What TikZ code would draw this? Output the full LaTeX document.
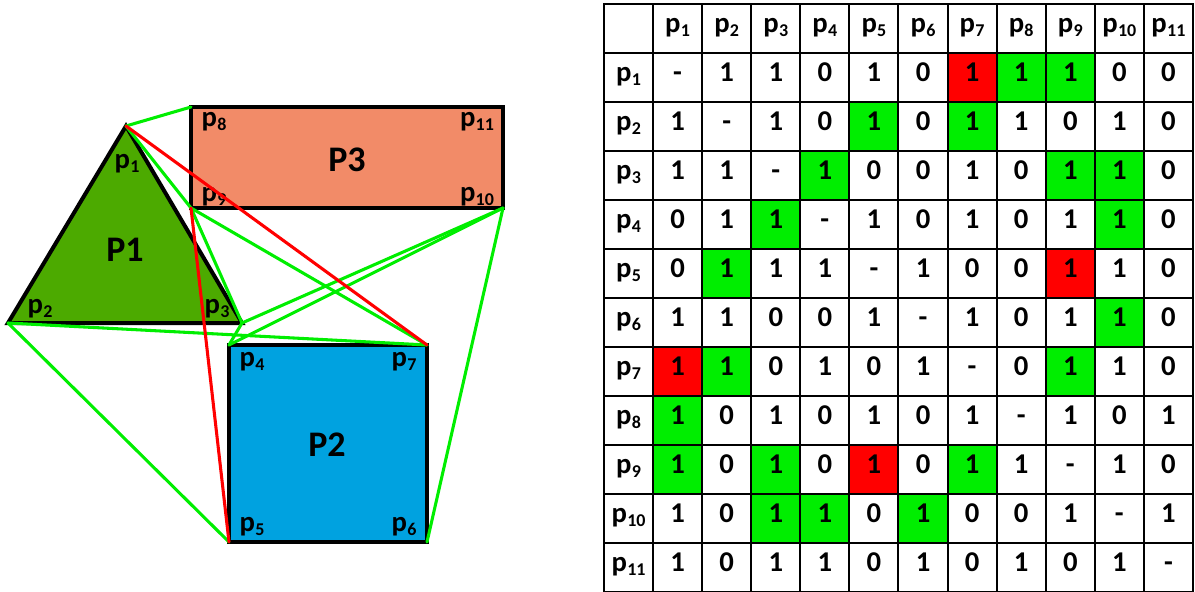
\documentclass[tikz,border=0pt]{standalone}
\usepackage{fontspec}
\setmainfont{Carlito}
\definecolor{triFill}{RGB}{76,170,0}
\definecolor{recFill}{RGB}{242,139,104}
\definecolor{sqFill}{RGB}{0,162,224}
\definecolor{linkGreen}{RGB}{0,238,0}
\definecolor{linkRed}{RGB}{255,0,0}
\colorlet{cw}{white}
\colorlet{cg}{linkGreen}
\colorlet{cr}{linkRed}
% vertex label: bold p with a small lowered index
\newcommand\plab[1]{p\kern0.01em\raisebox{-0.14em}{\fontsize{13.5}{14}\selectfont #1}}
\tikzset{
  poly/.style={draw=black,line width=3pt,line join=miter},
  vlabel/.style={font=\fontsize{21.5}{23}\selectfont\bfseries,inner sep=0pt},
  plabel/.style={font=\fontsize{27}{29}\selectfont\bfseries,inner sep=0pt},
  glink/.style={draw=linkGreen,line width=2.3pt,line cap=round},
  rlink/.style={draw=linkRed,line width=2.3pt,line cap=round},
  cell/.style={draw=black,line width=1.5pt,minimum width=36.81pt,minimum height=36.75pt,
    inner sep=0pt,font=\fontsize{21.5}{23}\selectfont\bfseries,text height=0.62em,text depth=0.05em}
}
\begin{document}
\begin{tikzpicture}[x=0.75pt,y=-0.75pt]
\useasboundingbox (0,0) rectangle (1195,592);

% polygon corners
\coordinate (p1) at (126,126);
\coordinate (p2) at (8,323);
\coordinate (p3) at (242,323);
\coordinate (p4) at (229,345);
\coordinate (p5) at (229,542);
\coordinate (p6) at (427,542);
\coordinate (p7) at (427,345);
\coordinate (p8) at (191,107);
\coordinate (p9) at (191,208);
\coordinate (p10) at (503,208);
\coordinate (p11) at (503,107);

% polygons
\draw[poly,fill=triFill] (p1) -- (p2) -- (p3) -- cycle;
\draw[poly,fill=recFill] (p8) rectangle (p10);
\draw[poly,fill=sqFill] (p4) rectangle (p6);

% polygon names and corner labels
\node[plabel] (P1) at (125,250) {P1};
\node[plabel] (P3) at (347,160) {P3};
\node[plabel] (P2) at (327,445) {P2};
\node[vlabel] (l1) at (127,164) {\plab{1}};
\node[vlabel] (l2) at (40,309) {\plab{2}};
\node[vlabel] (l3) at (217,309) {\plab{3}};
\node[vlabel] (l4) at (252,362) {\plab{4}};
\node[vlabel] (l5) at (252,527) {\plab{5}};
\node[vlabel] (l6) at (404,527) {\plab{6}};
\node[vlabel] (l7) at (404,362) {\plab{7}};
\node[vlabel] (l8) at (214,122) {\plab{8}};
\node[vlabel] (l9) at (214,197) {\plab{9}};
\node[vlabel] (l10) at (477,197) {\plab{10}};
\node[vlabel] (l11) at (477,122) {\plab{11}};

% visibility links
\draw[glink] (p1) -- (p8);
\draw[glink] (p1) -- (p9);
\draw[glink] (p2) -- (p5);
\draw[glink] (p2) -- (p7);
\draw[glink] (p3) -- (p4);
\draw[glink] (p3) -- (p9);
\draw[glink] (p3) -- (p10);
\draw[glink] (p4) -- (p10);
\draw[glink] (p6) -- (p10);
\draw[glink] (p7) -- (p9);
\draw[rlink] (p1) -- (p7);
\draw[rlink] (p5) -- (p9);

% adjacency table: header row
\node[cell,fill=cw] (h-0) at ({604+24.54},{4+24.5}) {};
\foreach \c in {1,...,11}
  \node[cell,fill=cw] (h-\c) at ({604+49.08*\c+24.54},{4+24.5}) {\plab{\c}};
% adjacency table: body rows
\foreach [count=\r] \row in {
  {-/cw,1/cw,1/cw,0/cw,1/cw,0/cw,1/cr,1/cg,1/cg,0/cw,0/cw},
  {1/cw,-/cw,1/cw,0/cw,1/cg,0/cw,1/cg,1/cw,0/cw,1/cw,0/cw},
  {1/cw,1/cw,-/cw,1/cg,0/cw,0/cw,1/cw,0/cw,1/cg,1/cg,0/cw},
  {0/cw,1/cw,1/cg,-/cw,1/cw,0/cw,1/cw,0/cw,1/cw,1/cg,0/cw},
  {0/cw,1/cg,1/cw,1/cw,-/cw,1/cw,0/cw,0/cw,1/cr,1/cw,0/cw},
  {1/cw,1/cw,0/cw,0/cw,1/cw,-/cw,1/cw,0/cw,1/cw,1/cg,0/cw},
  {1/cr,1/cg,0/cw,1/cw,0/cw,1/cw,-/cw,0/cw,1/cg,1/cw,0/cw},
  {1/cg,0/cw,1/cw,0/cw,1/cw,0/cw,1/cw,-/cw,1/cw,0/cw,1/cw},
  {1/cg,0/cw,1/cg,0/cw,1/cr,0/cw,1/cg,1/cw,-/cw,1/cw,0/cw},
  {1/cw,0/cw,1/cg,1/cg,0/cw,1/cg,0/cw,0/cw,1/cw,-/cw,1/cw},
  {1/cw,0/cw,1/cw,1/cw,0/cw,1/cw,0/cw,1/cw,0/cw,1/cw,-/cw}} {
  \node[cell,fill=cw] (r-\r) at ({604+24.54},{4+49*\r+24.5}) {\plab{\r}};
  \foreach [count=\c] \v/\f in \row
    \node[cell,fill=\f] (c-\r-\c) at ({604+49.08*\c+24.54},{4+49*\r+24.5}) {\v};
}
\end{tikzpicture}
\end{document}
